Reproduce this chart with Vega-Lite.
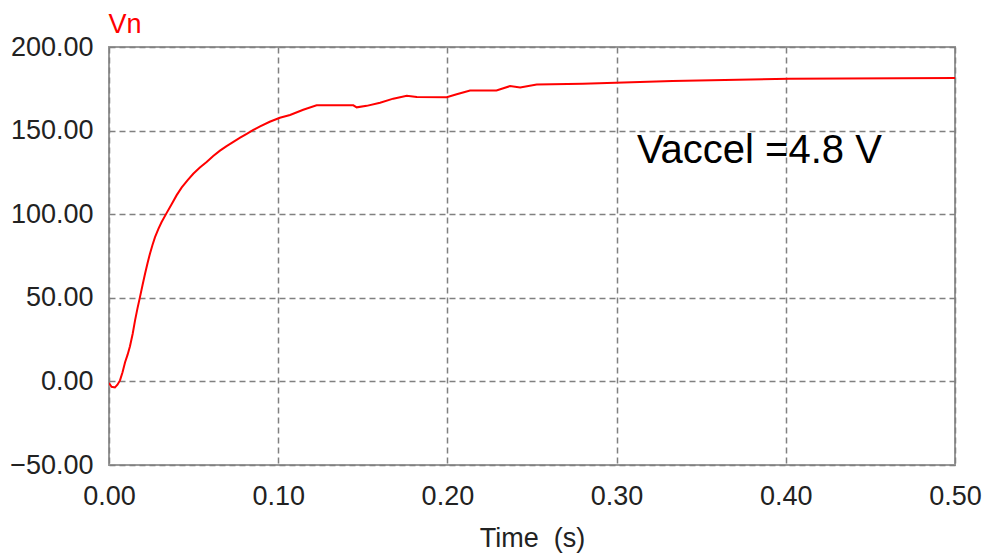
{
  "$schema": "https://vega.github.io/schema/vega-lite/v6.json",
  "autosize": "none",
  "width": 846,
  "height": 418,
  "padding": {"left": 109, "top": 47, "right": 30, "bottom": 94},
  "background": "white",
  "config": {
    "view": {"stroke": "#999999", "strokeWidth": 2},
    "font": "Liberation Sans"
  },
  "datasets": {
    "curve": [
      {"t": 0, "v": -1},
      {"t": 0.0015, "v": -3.2},
      {"t": 0.0035, "v": -3.6},
      {"t": 0.005, "v": -2},
      {"t": 0.0065, "v": 0.6},
      {"t": 0.008, "v": 5.5},
      {"t": 0.0095, "v": 11.5},
      {"t": 0.011, "v": 16},
      {"t": 0.0124, "v": 21},
      {"t": 0.014, "v": 28.5},
      {"t": 0.0154, "v": 36.5},
      {"t": 0.0168, "v": 43.5},
      {"t": 0.0183, "v": 50.4},
      {"t": 0.0198, "v": 57.5},
      {"t": 0.0213, "v": 64.4},
      {"t": 0.0228, "v": 70.8},
      {"t": 0.0242, "v": 76.4},
      {"t": 0.0257, "v": 81.6},
      {"t": 0.0272, "v": 86.3},
      {"t": 0.0292, "v": 91.2},
      {"t": 0.0311, "v": 95.3},
      {"t": 0.0341, "v": 100.8},
      {"t": 0.037, "v": 106},
      {"t": 0.040, "v": 111.4},
      {"t": 0.043, "v": 116},
      {"t": 0.0465, "v": 120.4},
      {"t": 0.0498, "v": 124.2},
      {"t": 0.0537, "v": 127.9},
      {"t": 0.0577, "v": 131.2},
      {"t": 0.0616, "v": 134.8},
      {"t": 0.0656, "v": 138},
      {"t": 0.0695, "v": 140.7},
      {"t": 0.0735, "v": 143.3},
      {"t": 0.0775, "v": 145.8},
      {"t": 0.0814, "v": 148.1},
      {"t": 0.0853, "v": 150.4},
      {"t": 0.0893, "v": 152.5},
      {"t": 0.095, "v": 155.3},
      {"t": 0.101, "v": 157.7},
      {"t": 0.107, "v": 159.3},
      {"t": 0.1148, "v": 162.5},
      {"t": 0.1227, "v": 165.1},
      {"t": 0.1444, "v": 165.1},
      {"t": 0.1464, "v": 163.9},
      {"t": 0.1523, "v": 164.8},
      {"t": 0.1602, "v": 166.7},
      {"t": 0.168, "v": 169.1},
      {"t": 0.176, "v": 170.9},
      {"t": 0.1819, "v": 170.1},
      {"t": 0.1996, "v": 169.9},
      {"t": 0.2055, "v": 171.7},
      {"t": 0.2134, "v": 174.0},
      {"t": 0.229, "v": 174.0},
      {"t": 0.237, "v": 176.6},
      {"t": 0.243, "v": 175.8},
      {"t": 0.2528, "v": 177.6},
      {"t": 0.28, "v": 178.0},
      {"t": 0.333, "v": 179.6},
      {"t": 0.402, "v": 181.0},
      {"t": 0.5, "v": 181.4}
    ],
    "note": [{"t": 0.312, "v": 138, "label": "Vaccel =4.8 V"}]
  },
  "layer": [
    {
      "data": {"name": "curve"},
      "mark": {"type": "line", "color": "#ff0000", "strokeWidth": 2, "clip": true},
      "encoding": {
        "x": {
          "field": "t", "type": "quantitative",
          "scale": {"domain": [0, 0.5], "nice": false, "zero": false},
          "axis": {
            "title": "Time\u00a0 (s)",
            "values": [0, 0.1, 0.2, 0.3, 0.4, 0.5],
            "format": ".2f",
            "domain": false, "ticks": false,
            "grid": true, "gridColor": "#808080", "gridDash": [6, 4], "gridWidth": 1.5,
            "labelFont": "Liberation Sans", "labelFontSize": 27, "labelColor": "#222222",
            "labelPadding": 18, "labelFlush": false,
            "titleFont": "Liberation Sans", "titleFontSize": 27, "titleFontWeight": "normal", "titleColor": "#222222",
            "titlePadding": 16
          }
        },
        "y": {
          "field": "v", "type": "quantitative",
          "scale": {"domain": [-50, 200], "nice": false, "zero": false},
          "axis": {
            "title": "Vn",
            "titleAngle": 0, "titleX": -1, "titleY": -23, "titleAlign": "left", "titleBaseline": "middle",
            "titleColor": "#ff0000", "titleFont": "Liberation Sans", "titleFontSize": 27, "titleFontWeight": "normal",
            "values": [-50, 0, 50, 100, 150, 200],
            "format": ".2f",
            "domain": false, "ticks": false,
            "grid": true, "gridColor": "#808080", "gridDash": [6, 4], "gridWidth": 1.5,
            "labelFont": "Liberation Sans", "labelFontSize": 27, "labelColor": "#222222",
            "labelPadding": 16, "labelFlush": false
          }
        }
      }
    },
    {
      "data": {"name": "note"},
      "mark": {"type": "text", "align": "left", "baseline": "middle", "fontSize": 40, "font": "Liberation Sans", "color": "#000000"},
      "encoding": {
        "x": {"field": "t", "type": "quantitative"},
        "y": {"field": "v", "type": "quantitative"},
        "text": {"field": "label"}
      }
    }
  ]
}
